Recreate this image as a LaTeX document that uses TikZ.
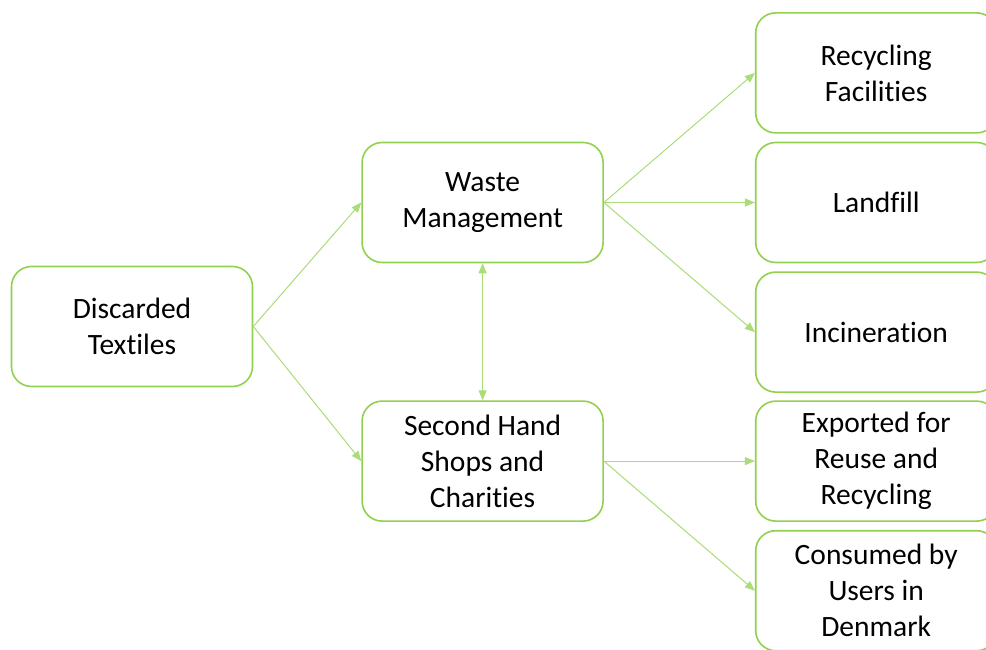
\documentclass[tikz,border=0pt]{standalone}
\usepackage{fontspec}
\setmainfont[Ligatures=NoCommon]{Carlito}
\usetikzlibrary{positioning,arrows.meta}

\definecolor{boxgreen}{RGB}{146,208,80}
\definecolor{linegreen}{RGB}{170,220,120}

\tikzset{
    stage/.style={draw=boxgreen, line width=1.6pt, rounded corners=20pt, fill=white,
        minimum width=241pt, minimum height=120pt, align=center,
        font=\fontsize{29.5pt}{36pt}\selectfont},
    flow/.style={draw=linegreen, line width=1pt, -{Triangle[length=10pt,width=8pt]}},
    both/.style={draw=linegreen, line width=1pt, {Triangle[length=10pt,width=8pt]}-{Triangle[length=10pt,width=8pt]}}
}

\begin{document}
\begin{tikzpicture}[x=1pt, y=1pt]
\useasboundingbox (0,0) rectangle (986,-650);
\clip (0,0) rectangle (986,-650);

\node[stage] (disc) at (132,-326.5) {Discarded\\Textiles} ;
\node[stage] (waste) [right=108pt of disc, yshift=124pt] {Waste\\Management} ;
\node[stage] (second) [below=137pt of waste] {Second Hand\\Shops and\\Charities} ;

\node[stage] (landfill) [right=151pt of waste] {Landfill} ;
\node[stage] (recyc) [above=8pt of landfill] {Recycling\\Facilities} ;
\node[stage] (incin) [below=8pt of landfill] {Incineration} ;

\node[stage] (export) [right=151pt of second] {Exported for\\Reuse and\\Recycling} ;
\node[stage] (consumed) [below=8pt of export] {Consumed by\\Users in\\Denmark} ;

\draw[flow] (disc.east) -- (waste.west);
\draw[flow] (disc.east) -- (second.west);
\draw[both] (waste.south) -- (second.north);

\draw[flow] (waste.east) -- (recyc.west);
\draw[flow] (waste.east) -- (landfill.west);
\draw[flow] (waste.east) -- (incin.west);

\draw[flow] (second.east) -- (export.west);
\draw[flow] (second.east) -- (consumed.west);
\end{tikzpicture}
\end{document}
